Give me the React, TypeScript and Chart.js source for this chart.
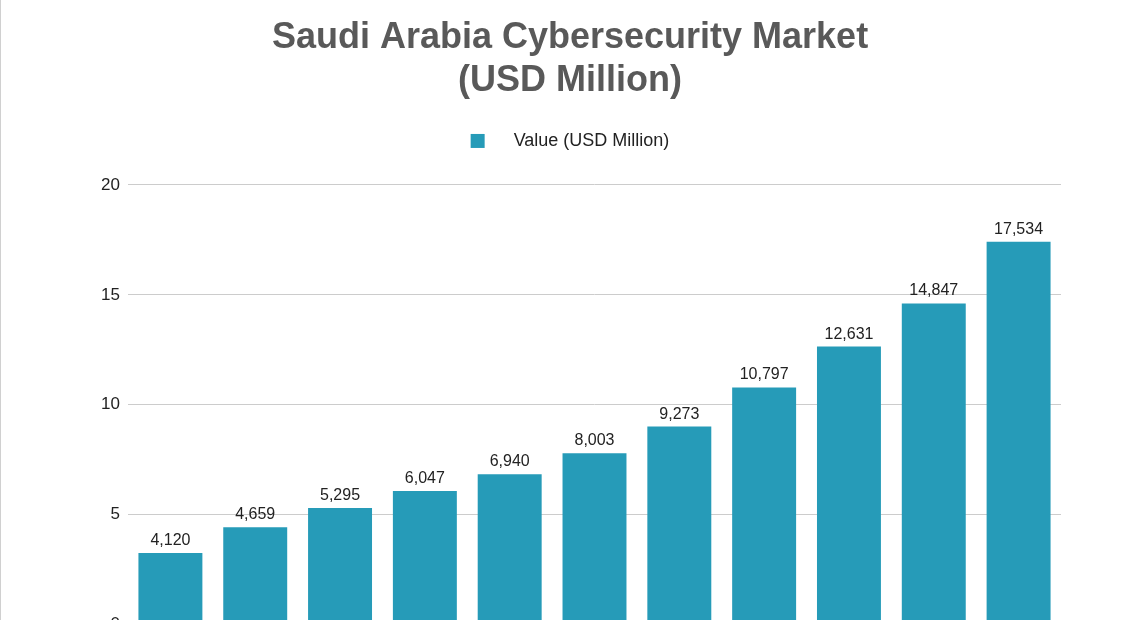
import React, { useEffect, useRef } from "react";
import { Chart, registerables } from "chart.js";

Chart.register(...registerables);

const categories = ["2024", "2025", "2026", "2027", "2028", "2029", "2030", "2031", "2032", "2033", "2034"];
// bar heights as drawn in the picture (thousands of USD million)
const barValues = [3.26, 4.43, 5.3, 6.08, 6.84, 7.8, 9.01, 10.79, 12.65, 14.61, 17.42];
// value labels printed above the bars
const valueLabels = ["4,120", "4,659", "5,295", "6,047", "6,940", "8,003", "9,273", "10,797", "12,631", "14,847", "17,534"];
const titleLines = ["Saudi Arabia Cybersecurity Market", "(USD Million)"];
const seriesName = "Value (USD Million)";
const yTicks = [0, 5, 10, 15, 20];

const FONT = '"Liberation Sans", Arial, Helvetica, sans-serif';
const BAR_COLOR = "#269BB8";

const valueLabelPlugin = {
  id: "valueLabels",
  afterDatasetsDraw(chart: any) {
    const ctx = chart.ctx;
    const meta = chart.getDatasetMeta(0);
    ctx.save();
    ctx.font = `16px ${FONT}`;
    ctx.fillStyle = "#222222";
    ctx.textAlign = "center";
    ctx.textBaseline = "alphabetic";
    meta.data.forEach((bar: any, i: number) => {
      ctx.fillText(valueLabels[i], bar.x, bar.y - 8);
    });
    ctx.restore();
  },
};

const legendSpacingPlugin = {
  id: "legendSpacing",
  beforeInit(chart: any) {
    const legend = chart.legend;
    if (!legend) return;
    const origFit = legend.fit;
    legend.fit = function () {
      origFit.bind(legend)();
      this.height += 25;
    };
  },
};

export default function App() {
  const canvasRef = useRef<HTMLCanvasElement | null>(null);

  useEffect(() => {
    if (!canvasRef.current) return;
    const chart = new Chart(canvasRef.current, {
      type: "bar",
      data: {
        labels: categories,
        datasets: [
          {
            label: seriesName,
            data: barValues,
            backgroundColor: BAR_COLOR,
            borderWidth: 0,
            barPercentage: 0.754,
            categoryPercentage: 1,
          },
        ],
      },
      options: {
        animation: false,
        responsive: true,
        maintainAspectRatio: false,
        devicePixelRatio: 1,
        layout: { padding: { top: 17, left: 0, right: 0, bottom: 11 } },
        plugins: {
          title: {
            display: true,
            text: titleLines,
            color: "#595959",
            font: { family: FONT, size: 36, weight: "bold", lineHeight: 1.18 },
            padding: { top: 0, bottom: 20 },
          },
          legend: {
            display: true,
            position: "top",
            labels: {
              color: "#222222",
              font: { family: FONT, size: 18 },
              boxWidth: 14,
              boxHeight: 14,
              padding: 10,
              generateLabels: (chart: any) =>
                Chart.defaults.plugins.legend.labels
                  .generateLabels(chart)
                  .map((l: any) => ({ ...l, text: "    " + l.text, lineWidth: 0 })),
            },
          },
          tooltip: { enabled: false },
        },
        scales: {
          x: {
            grid: { display: false },
            border: { display: false },
            ticks: { color: "#222222", font: { family: FONT, size: 17 } },
          },
          y: {
            min: 0,
            max: 20,
            afterBuildTicks: (axis: any) => {
              axis.ticks = yTicks.map((v) => ({ value: v }));
            },
            afterFit: (axis: any) => {
              axis.width = 128;
            },
            grid: { color: "#cccccc", lineWidth: 1, drawTicks: false },
            border: { display: false },
            ticks: { color: "#222222", padding: 8, font: { family: FONT, size: 17 } },
          },
          yRight: {
            position: "right",
            display: true,
            min: 0,
            max: 20,
            grid: { display: false, drawOnChartArea: false },
            border: { display: false },
            ticks: { display: false },
            afterFit: (axis: any) => {
              axis.width = 79;
            },
          },
        },
      },
      plugins: [valueLabelPlugin, legendSpacingPlugin],
    });
    return () => chart.destroy();
  }, []);

  return (
    <div
      style={{
        position: "fixed",
        left: 0,
        top: 0,
        width: 1140,
        height: 620,
        overflow: "hidden",
        background: "#ffffff",
      }}
    >
      <div style={{ position: "absolute", left: 0, top: 0, width: 1, height: 620, background: "#d0d0d0" }} />
      <div style={{ position: "absolute", left: 0, top: 0, width: 1140, height: 670 }}>
        <canvas ref={canvasRef} />
      </div>
    </div>
  );
}
